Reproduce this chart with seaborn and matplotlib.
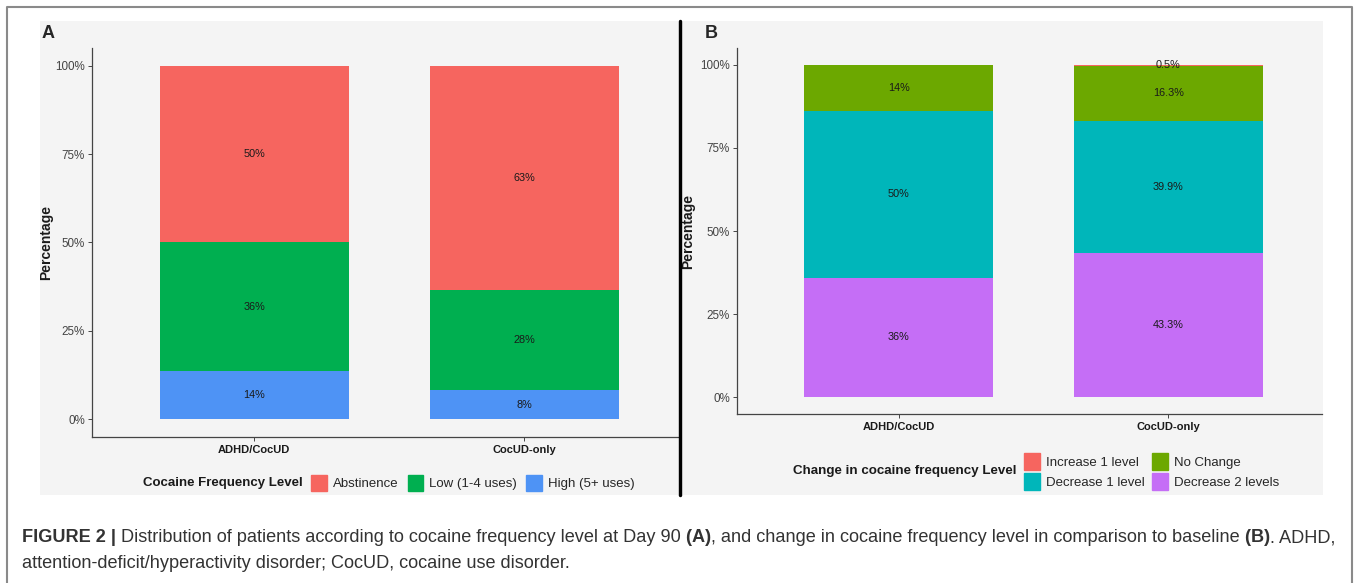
"""
Figure 2: cocaine frequency level at Day 90 (A) and change vs baseline (B)
"""

import numpy as np
import pandas as pd
import seaborn as sns
import matplotlib.pyplot as plt
from matplotlib.patches import Rectangle, Patch
from matplotlib.lines import Line2D

# --------------------------------------------------
# Data (percent of patients)
# --------------------------------------------------
groups = ["ADHD/CocUD", "CocUD-only"]

# panel A, bottom -> top
high_pct = [13.6, 8.2]
low_pct = [36.4, 28.5]
abst_pct = [50.0, 63.3]
high_lbl = ["14%", "8%"]
low_lbl = ["36%", "28%"]
abst_lbl = ["50%", "63%"]

# panel B, bottom -> top
dec2_pct = [36.0, 43.3]
dec1_pct = [50.0, 39.9]
nochg_pct = [14.0, 16.3]
inc1_pct = [0.0, 0.5]
dec2_lbl = ["36%", "43.3%"]
dec1_lbl = ["50%", "39.9%"]
nochg_lbl = ["14%", "16.3%"]
inc1_lbl = ["", "0.5%"]

W, H = 1358, 583

sns.set_style("ticks")
plt.rcParams["font.family"] = ["Liberation Sans", "DejaVu Sans"]

fig = plt.figure(figsize=(W / 100, H / 100), dpi=100)


def fx(px):
    return px / W


def fy(py):
    return 1 - py / H


# gray panel backgrounds, divider and outer frame
fig.patches.append(Rectangle((fx(40), fy(495)), fx(638), 474 / H, transform=fig.transFigure,
                             facecolor="#F4F4F4", edgecolor="none", zorder=-5))
fig.patches.append(Rectangle((fx(683), fy(495)), fx(640), 474 / H, transform=fig.transFigure,
                             facecolor="#F4F4F4", edgecolor="none", zorder=-5))
fig.lines.append(Line2D([fx(680), fx(680)], [fy(21), fy(495)], transform=fig.transFigure,
                        color="black", lw=2.5, zorder=5))
fig.lines.append(Line2D([fx(7), fx(7), fx(1352), fx(1352)], [0, fy(7), fy(7), 0],
                        transform=fig.transFigure, color="#8a8a8a", lw=1.5))


def stacked(ax, series, colors, labels):
    tops = []
    cum = np.zeros(len(groups))
    for vals in series:
        cum = cum + np.array(vals) / 100
        tops.append(cum.copy())
    # tallest first, lower segments painted over it
    for top, col in reversed(list(zip(tops, colors))):
        df = pd.DataFrame({"group": groups, "value": top})
        sns.barplot(data=df, x="group", y="value", color=col, saturation=1,
                    width=0.7, errorbar=None, linewidth=0, edgecolor="none", ax=ax)
    bottom = np.zeros(len(groups))
    for vals, labs in zip(series, labels):
        v = np.array(vals) / 100
        for i in range(len(groups)):
            if labs[i]:
                ax.text(i, bottom[i] + v[i] / 2, labs[i], ha="center", va="center",
                        fontsize=7.8, color="#1a1a1a")
        bottom = bottom + v

    ax.set_xlim(-0.6, 1.57)
    ax.set_ylim(-0.05, 1.05)
    ax.set_yticks([0, 0.25, 0.5, 0.75, 1.0])
    ax.set_yticklabels(["0%", "25%", "50%", "75%", "100%"])
    ax.set_facecolor("none")
    sns.despine(ax=ax)
    for s in ["left", "bottom"]:
        ax.spines[s].set_color("#444444")
        ax.spines[s].set_linewidth(0.9)
    ax.tick_params(axis="y", length=3, width=0.7, color="#444444", labelsize=8.4,
                   labelcolor="#444444", pad=2)
    ax.tick_params(axis="x", length=3, width=0.7, color="#444444", labelsize=8, pad=3)
    for t in ax.get_xticklabels():
        t.set_fontweight("bold")
        t.set_color("#1a1a1a")
    ax.set_xlabel("")
    ax.set_ylabel("Percentage", fontsize=10, fontweight="bold", color="#1a1a1a")


# --------------------------------------------------
# Panel A
# --------------------------------------------------
colors_a = ["#4E93F5", "#00AF50", "#F6655F"]
axA = fig.add_axes([fx(92), fy(437), fx(586), 389 / H])
axA.set_zorder(1)
stacked(axA, [high_pct, low_pct, abst_pct], colors_a, [high_lbl, low_lbl, abst_lbl])
axA.yaxis.set_label_coords(-0.0666, 0.5)

# --------------------------------------------------
# Panel B
# --------------------------------------------------
colors_b = ["#C56EF6", "#00B6BA", "#6CA800", "#F6655F"]
axB = fig.add_axes([fx(737), fy(414), fx(585), 366 / H])
axB.set_zorder(1)
stacked(axB, [dec2_pct, dec1_pct, nochg_pct, inc1_pct], colors_b,
        [dec2_lbl, dec1_lbl, nochg_lbl, inc1_lbl])
axB.yaxis.set_label_coords(-0.0718, 0.5)

fig.text(fx(42), fy(33), "A", fontsize=13, fontweight="bold", va="center", ha="left")
fig.text(fx(705), fy(33), "B", fontsize=13, fontweight="bold", va="center", ha="left")

# --------------------------------------------------
# Legends (title on the left like ggplot)
# --------------------------------------------------
fig.text(fx(143), fy(483), "Cocaine Frequency Level", fontsize=9.5, fontweight="bold",
         va="center", ha="left", color="#1a1a1a")
hA = [Patch(color=colors_a[2], label="Abstinence"),
      Patch(color=colors_a[1], label="Low (1-4 uses)"),
      Patch(color=colors_a[0], label="High (5+ uses)")]
fig.legend(handles=hA, loc="center left", bbox_to_anchor=(fx(311), fy(483)), ncol=3,
           frameon=False, fontsize=9.5, handlelength=1.2, handleheight=1.5,
           handletextpad=0.45, columnspacing=0.7, borderpad=0, borderaxespad=0)

fig.text(fx(793), fy(471), "Change in cocaine frequency Level", fontsize=9.6,
         fontweight="bold", va="center", ha="left", color="#1a1a1a")
hB = [Patch(color=colors_b[3], label="Increase 1 level"),
      Patch(color=colors_b[1], label="Decrease 1 level"),
      Patch(color=colors_b[2], label="No Change"),
      Patch(color=colors_b[0], label="Decrease 2 levels")]
fig.legend(handles=hB, loc="center left", bbox_to_anchor=(fx(1024), fy(471.5)), ncol=2,
           frameon=False, fontsize=9.5, handlelength=1.2, handleheight=1.5,
           handletextpad=0.45, columnspacing=0.6, labelspacing=0.3, borderpad=0,
           borderaxespad=0)

# --------------------------------------------------
# Caption with bold pieces
# --------------------------------------------------
renderer = fig.canvas.get_renderer()


def chain(x_px, y_px, parts, size=13.1):
    x = fx(x_px)
    for s, w in parts:
        t = fig.text(x, fy(y_px), s, fontsize=size, fontweight=w, color="#333333",
                     va="center", ha="left")
        bb = t.get_window_extent(renderer)
        x = bb.x1 / W


chain(22, 538, [("FIGURE 2 |", "bold"),
                (" Distribution of patients according to cocaine frequency level at Day 90", "normal"),
                (" (A)", "bold"),
                (", and change in cocaine frequency level in comparison to baseline", "normal"),
                (" (B)", "bold"),
                (". ADHD,", "normal")])
chain(22, 563, [("attention-deficit/hyperactivity disorder; CocUD, cocaine use disorder.", "normal")])

plt.savefig("out.png", dpi=100)
plt.close()
